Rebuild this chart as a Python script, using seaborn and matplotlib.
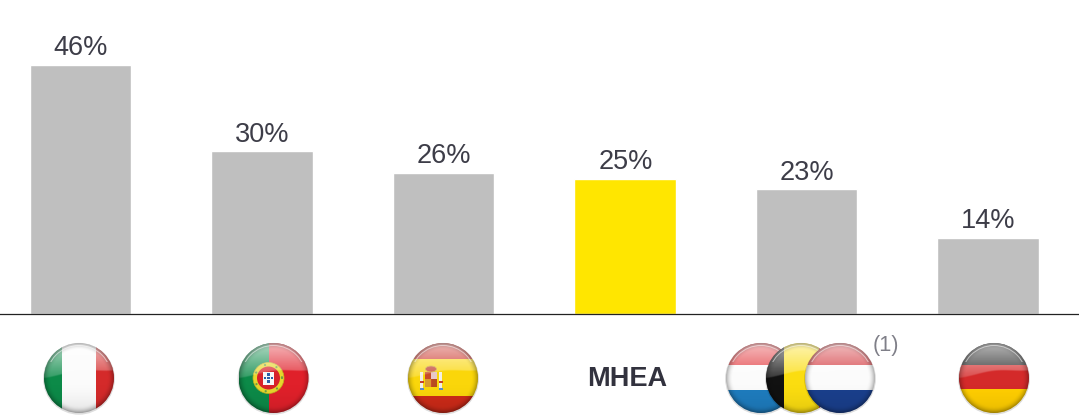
import numpy as np
import pandas as pd
import matplotlib
matplotlib.use("Agg")
import matplotlib.pyplot as plt
from matplotlib.patches import Circle, Rectangle, Ellipse
import seaborn as sns

categories = ["Italy", "Portugal", "Spain", "MHEA", "Benelux", "Germany"]
values = [46, 30, 26, 25, 23, 14]
bar_colors = ["#BFBFBF", "#BFBFBF", "#BFBFBF", "#FFE600", "#BFBFBF", "#BFBFBF"]
value_labels = ["46%", "30%", "26%", "25%", "23%", "14%"]

sns.set_theme(style="white")
plt.rcParams["font.family"] = ["Liberation Sans", "DejaVu Sans"]

W, H = 1079, 418
fig = plt.figure(figsize=(W / 100, H / 100), dpi=100, facecolor="white")
ax = fig.add_axes([0, (H - 314) / H, 1, 314 / H])

df = pd.DataFrame({"category": categories, "value": values})
sns.barplot(data=df, x="category", y="value", hue="category", order=categories,
            palette=dict(zip(categories, bar_colors)), width=0.5585, saturation=1,
            legend=False, ax=ax)
ax.set_xlim(-80.4 / 181.5, (W - 80.4) / 181.5)
ax.set_ylim(0, 314 / 5.42)
ax.set_xlabel("")
ax.set_ylabel("")
ax.set_xticks([])
ax.set_yticks([])
for s in ["top", "left", "right"]:
    ax.spines[s].set_visible(False)
ax.spines["bottom"].set_color("#222222")
ax.spines["bottom"].set_linewidth(0.9)
ax.patch.set_alpha(0)

for i, (v, lab) in enumerate(zip(values, value_labels)):
    ax.annotate(lab, (i, v), xytext=(0.3, 2.7), textcoords="offset points",
                ha="center", va="bottom", fontsize=19.5, color="#3D3D48")

# Overlay in pixel coordinates for the flag badges
ov = fig.add_axes([0, 0, 1, 1], zorder=5)
ov.set_xlim(0, W)
ov.set_ylim(H, 0)
ov.axis("off")
ov.patch.set_alpha(0)

R = 35
CY = 378


def gloss(cx, clip, z):
    n = 210
    yy, xx = np.mgrid[-1:1:n * 1j, -1:1:n * 1j]
    r = np.hypot(xx, yy)
    # pale highlight over the upper cap, fading towards its curved lower edge
    rgba = np.ones((n, n, 4))
    limit = -0.14 - 0.11 * xx - 0.05 * np.cos(xx * 3)
    edge = np.clip((limit - yy) / 0.04, 0, 1)
    rgba[..., 3] = edge * np.clip(0.68 - 0.52 * (yy + 1), 0.12, 0.68)
    im = ov.imshow(rgba, extent=(cx - R, cx + R, CY + R, CY - R), zorder=z + 0.3,
                   aspect="auto", interpolation="bilinear")
    im.set_clip_path(clip)
    # soft shading: rim and lower half
    shade = np.zeros((n, n, 4))
    shade[..., 3] = (np.clip((r - 0.80) / 0.20, 0, 1) ** 2 * 0.30
                     + np.clip(yy, 0, 1) ** 2 * 0.10)
    im2 = ov.imshow(shade, extent=(cx - R, cx + R, CY + R, CY - R), zorder=z + 0.4,
                    aspect="auto", interpolation="bilinear")
    im2.set_clip_path(clip)


def flag(cx, stripes, z=1, vertical=False, emblem=None):
    """stripes: list of (fraction, colour) along the stripe direction"""
    ov.add_patch(Circle((cx, CY + 0.8), R + 0.9, fc="#00000022", ec="none", zorder=z - 0.1))
    clip = Circle((cx, CY), R, transform=ov.transData)
    pos = 0.0
    for frac, col in stripes:
        if vertical:
            p = Rectangle((cx - R + pos * 2 * R, CY - R), frac * 2 * R, 2 * R, fc=col, ec="none", zorder=z)
        else:
            p = Rectangle((cx - R, CY - R + pos * 2 * R), 2 * R, frac * 2 * R, fc=col, ec="none", zorder=z)
        ov.add_patch(p)
        p.set_clip_path(clip)
        pos += frac
    if emblem:
        emblem(cx, z + 0.1)
    gloss(cx, clip, z)
    arc = Circle((cx, CY), R - 2.5, fc="none", ec="#FFFFFF88", lw=0.7, zorder=z + 0.5)
    ov.add_patch(arc)
    mask = Rectangle((cx - R, CY - R), 2 * R, R * 0.55, transform=ov.transData)
    arc.set_clip_path(mask)


def portugal_emblem(cx, z):
    c = cx - 5
    ov.add_patch(Circle((c, CY), 15.5, fc="#E6D62C", ec="#BFB020", lw=0.5, zorder=z))
    ov.add_patch(Circle((c, CY), 11.5, fc="#D8222A", ec="none", zorder=z + 0.01))
    ov.add_patch(Rectangle((c - 5.5, CY - 6.5), 11, 13, fc="#F6F6F6", ec="none", zorder=z + 0.02))
    for dx, dy in [(0, -3.5), (0, 0), (0, 3.5), (-3.2, 0), (3.2, 0)]:
        ov.add_patch(Rectangle((c + dx - 1.1, CY + dy - 1.1), 2.2, 2.2, fc="#2A5FA8", ec="none", zorder=z + 0.03))
    for a in np.deg2rad(np.arange(0, 360, 51)):
        ov.add_patch(Circle((c + 13.5 * np.cos(a), CY + 13.5 * np.sin(a)), 1.1, fc="#6FA040", ec="none", zorder=z + 0.02))


def spain_emblem(cx, z):
    c = cx - 12
    ov.add_patch(Rectangle((c - 6, CY - 6), 12, 15, fc="#C84A2A", ec="none", zorder=z))
    ov.add_patch(Rectangle((c, CY - 6), 6, 7, fc="#E8C8C8", ec="none", zorder=z + 0.01))
    ov.add_patch(Rectangle((c - 6, CY + 1), 6, 8, fc="#D89A30", ec="none", zorder=z + 0.01))
    ov.add_patch(Rectangle((c + 0.5, CY + 1), 5.5, 8, fc="#B84A20", ec="none", zorder=z + 0.01))
    ov.add_patch(Ellipse((c, CY - 9), 11, 6, fc="#C03A2A", ec="#D0A030", lw=0.6, zorder=z + 0.02))
    for side in (-11, 8):
        ov.add_patch(Rectangle((c + side, CY - 6), 3, 16, fc="#F2EFE6", ec="none", zorder=z + 0.02))
        ov.add_patch(Rectangle((c + side - 0.5, CY + 3), 4, 1.6, fc="#C8402A", ec="none", zorder=z + 0.03))
        ov.add_patch(Rectangle((c + side - 0.5, CY + 10), 4, 1.6, fc="#5C8CC8", ec="none", zorder=z + 0.03))


flag(79, [(0.25, "#0C8A48"), (0.49, "#FBFBFB"), (0.26, "#D42A2A")], vertical=True)
flag(273.5, [(0.43, "#0C8A48"), (0.57, "#E0202A")], vertical=True, emblem=portugal_emblem)
flag(443, [(0.235, "#C8281E"), (0.515, "#FAD60A"), (0.25, "#CC2A18")], emblem=spain_emblem)
flag(761, [(0.32, "#E2353A"), (0.35, "#FBFBFB"), (0.33, "#1E7CBE")], z=1)
flag(801, [(0.25, "#111111"), (0.50, "#FBDD10"), (0.25, "#EE3030")], z=2, vertical=True)
flag(840, [(0.32, "#D2343A"), (0.35, "#FBFBFB"), (0.33, "#1A3F8C")], z=3)
flag(994, [(0.32, "#222222"), (0.335, "#D42A2A"), (0.345, "#FFCE00")])

ov.text(627, 379, "MHEA", ha="center", va="center", fontsize=19.5, fontweight="bold", color="#32323E")
ov.text(886, 345, "(1)", ha="center", va="center", fontsize=15.6, color="#7F7F88", zorder=6)

ov.set_xlim(0, W)
ov.set_ylim(H, 0)

fig.savefig("out.png", dpi=100, facecolor="white")
